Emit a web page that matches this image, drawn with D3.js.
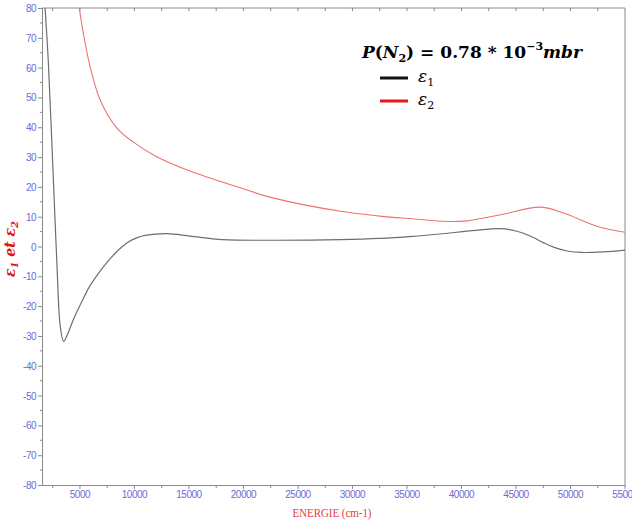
<!DOCTYPE html>
<html>
<head>
<meta charset="utf-8">
<script src="https://cdn.jsdelivr.net/npm/d3@7"></script>
<style>
  body { margin: 0; background: #fff; }
  .axis text { font-family: "Liberation Sans Narrow", "Liberation Sans", sans-serif; font-size: 10px; letter-spacing: -0.5px; fill: #6b6bd8; }
  .axis path, .axis line { stroke: #8a8a8a; }
</style>
</head>
<body>
<svg id="chart" width="632" height="526"></svg>
<script>
// energy (cm-1) and epsilon values
var eps1X = [1800, 2100, 2500, 2900, 3200, 3500, 3800, 4400, 5200, 5900, 6700, 7450, 8300, 9300, 10200, 11100, 13000, 15100, 18100, 22700, 28900, 32500, 35500, 38000, 41000, 43500, 45000, 46500, 47500, 48500, 49800, 51000, 53000, 55000];
var eps1Y = [80, 62, 28, -7, -27, -31.8, -30, -24.5, -18.3, -13.3, -9, -5.5, -2, 1.2, 2.9, 3.8, 4.3, 3.5, 2.3, 2.1, 2.3, 2.7, 3.4, 4.2, 5.3, 6.0, 5.2, 3.2, 1.3, -0.3, -1.6, -2, -1.8, -1.2];

var eps2X = [4940, 5300, 5920, 6840, 8370, 9900, 12000, 15100, 19700, 22700, 28900, 32500, 35500, 38700, 40500, 43800, 47200, 49300, 52400, 55000];
var eps2Y = [80, 71.8, 60.5, 49.3, 39.8, 35.0, 30.2, 25.3, 19.7, 16.3, 11.8, 10.2, 9.3, 8.4, 8.6, 10.8, 13.2, 11.3, 6.8, 4.8];

var xMajor = d3.range(5000, 55001, 5000);
var xMinor = d3.range(2500, 55001, 2500);
var yMajor = d3.range(-80, 81, 10);
var yMinor = d3.range(-75, 80, 10);

var params = {
  "plot": { "x": 42, "y": 8, "width": 583, "height": 477 }
};

var svg = d3.select("#chart");

var scale = {
  "x": d3.scaleLinear().domain([1520, 55000]).range([0, params.plot.width]),
  "y": d3.scaleLinear().domain([-80, 80]).range([params.plot.height, 0])
};

translate = function(x, y) { return "translate(" + x + "," + y + ")"; };

var plot = svg.append("g").attr("transform", translate(params.plot.x, params.plot.y));

plot.append("clipPath").attr("id", "clip")
  .append("rect")
  .attr("width", params.plot.width)
  .attr("height", params.plot.height);

// frame: top and right lines
plot.append("line")
  .attr("x1", 0).attr("x2", params.plot.width)
  .attr("y1", 0).attr("y2", 0)
  .attr("stroke", "#8a8a8a");
plot.append("line")
  .attr("x1", params.plot.width).attr("x2", params.plot.width)
  .attr("y1", 0).attr("y2", params.plot.height)
  .attr("stroke", "#8a8a8a");

// top inside ticks
plot.append("g").selectAll("line")
  .data(xMinor.filter(function(d) { return d < 55000; }))
  .enter().append("line")
  .attr("x1", function(d) { return scale.x(d); })
  .attr("x2", function(d) { return scale.x(d); })
  .attr("y1", 0).attr("y2", 3)
  .attr("stroke", "#8a8a8a");

// bottom axis
var gx = plot.append("g")
  .attr("class", "axis")
  .attr("transform", translate(0, params.plot.height))
  .call(d3.axisBottom(scale.x).tickValues(xMinor).tickSize(0).tickFormat(""));
gx.selectAll(".tick line").remove();
gx.append("g").selectAll("line")
  .data(xMinor)
  .enter().append("line")
  .attr("x1", function(d) { return scale.x(d); })
  .attr("x2", function(d) { return scale.x(d); })
  .attr("y1", 0)
  .attr("y2", function(d) { return d % 5000 === 0 ? 4 : 3; })
  .attr("stroke", "#8a8a8a");
gx.append("g").selectAll("text")
  .data(xMajor)
  .enter().append("text")
  .attr("x", function(d) { return scale.x(d); })
  .attr("y", 13)
  .attr("text-anchor", "middle")
  .text(function(d) { return String(d); });

// left axis
var gy = plot.append("g")
  .attr("class", "axis")
  .call(d3.axisLeft(scale.y).tickValues(yMajor).tickSize(4).tickPadding(2)
    .tickFormat(function(d) { return String(d); }));
gy.selectAll("text").attr("dy", "0.35em");
gy.append("g").selectAll("line")
  .data(yMinor)
  .enter().append("line")
  .attr("x1", -2).attr("x2", 0)
  .attr("y1", function(d) { return scale.y(d); })
  .attr("y2", function(d) { return scale.y(d); })
  .attr("stroke", "#8a8a8a");

// curves
var line = d3.line()
  .x(function(d) { return scale.x(d[0]); })
  .y(function(d) { return scale.y(d[1]); })
  .curve(d3.curveCatmullRom.alpha(0.5));

var lines = plot.append("g").attr("clip-path", "url(#clip)");

lines.append("path")
  .datum(d3.zip(eps2X, eps2Y))
  .attr("fill", "none")
  .attr("stroke", "#f07070")
  .attr("stroke-width", 1.1)
  .attr("d", line);

lines.append("path")
  .datum(d3.zip(eps1X, eps1Y))
  .attr("fill", "none")
  .attr("stroke", "#6e6e6e")
  .attr("stroke-width", 1.2)
  .attr("d", line);

// axis titles
svg.append("text")
  .attr("x", 332)
  .attr("y", 517)
  .attr("text-anchor", "middle")
  .attr("font-family", "Liberation Serif, serif")
  .attr("font-size", 13)
  .attr("textLength", 79)
  .attr("lengthAdjust", "spacingAndGlyphs")
  .attr("fill", "#e23c3c")
  .text("ENERGIE (cm-1)");

var ylab = svg.append("text")
  .attr("transform", translate(15, 249) + " rotate(-90)")
  .attr("text-anchor", "middle")
  .attr("font-family", "DejaVu Serif, serif")
  .attr("font-style", "italic")
  .attr("font-weight", "bold")
  .attr("font-size", 14)
  .attr("fill", "#e01010");
ylab.append("tspan").text("ε");
ylab.append("tspan").attr("font-size", 10).attr("dy", 3).text("1");
ylab.append("tspan").attr("dy", -3).text(" et ε");
ylab.append("tspan").attr("font-size", 10).attr("dy", 3).text("2");

// legend
var legend = svg.append("g")
  .attr("font-family", "DejaVu Serif, serif")
  .attr("font-weight", "bold")
  .attr("fill", "#000");

var title = legend.append("text")
  .attr("x", 362).attr("y", 58)
  .attr("font-size", 17)
  .attr("textLength", 220)
  .attr("lengthAdjust", "spacingAndGlyphs");
title.append("tspan").attr("font-style", "italic").text("P");
title.append("tspan").text("(");
title.append("tspan").attr("font-style", "italic").text("N");
title.append("tspan").attr("font-size", 11).attr("dy", 4).text("2");
title.append("tspan").attr("dy", -4).text(") = 0.78 * 10");
title.append("tspan").attr("font-size", 11).attr("dy", -8).text("−3");
title.append("tspan").attr("dy", 8).attr("font-style", "italic").text("mbr");

var series = [
  { "name": "1", "color": "#111111", "y": 78 },
  { "name": "2", "color": "#e8141c", "y": 101 }
];

series.forEach(function(s) {
  legend.append("line")
    .attr("x1", 380).attr("x2", 408)
    .attr("y1", s.y).attr("y2", s.y)
    .attr("stroke", s.color)
    .attr("stroke-width", 3);
  var t = legend.append("text")
    .attr("x", 418).attr("y", s.y + 4)
    .attr("font-size", 17)
    .attr("font-weight", "normal")
    .attr("font-style", "italic");
  t.append("tspan").text("ε");
  t.append("tspan").attr("font-size", 11).attr("dy", 4).attr("font-style", "normal").text(s.name);
});
</script>
</body>
</html>
